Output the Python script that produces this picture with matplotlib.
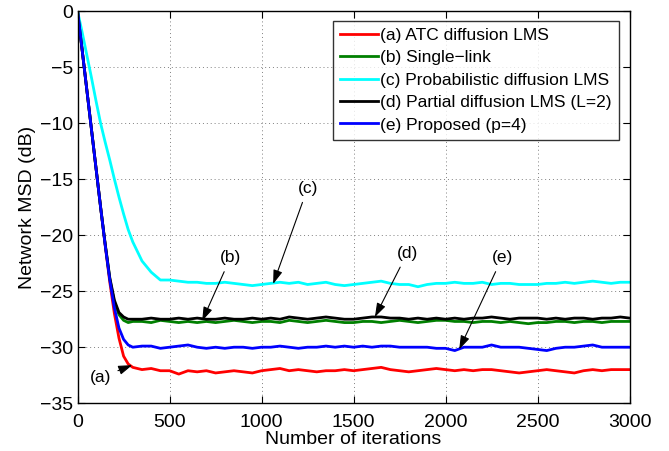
import matplotlib
matplotlib.use("Agg")
import matplotlib.pyplot as plt

plt.rcParams['font.family'] = ['Liberation Sans', 'DejaVu Sans']

# ---------------- data ----------------
iters = [0, 25, 50, 75, 100, 125, 150, 175, 200, 225, 250, 275, 300, 350, 400, 450] + list(range(500, 3001, 50))

atc_lms = [0, -3.5, -7.0, -10.5, -14.0, -17.5, -20.9, -24.2, -27.0, -29.2, -30.8, -31.5, -31.8, -32.0, -31.9, -32.1,
           -32.1, -32.4, -32.1, -32.2, -32.1, -32.3, -32.2, -32.1, -32.2, -32.3, -32.1, -32.0, -31.9, -32.1, -32.0,
           -32.1, -32.2, -32.1, -32.1, -32.0, -32.1, -32.0, -31.9, -31.8, -32.0, -32.1, -32.2, -32.1, -32.0, -31.9,
           -32.0, -32.1, -32.0, -32.1, -32.0, -32.0, -32.1, -32.2, -32.3, -32.2, -32.1, -32.0, -32.1, -32.2, -32.3,
           -32.1, -32.0, -32.1, -32.0, -32.0, -32.0]

single_link = [0, -3.5, -7.0, -10.5, -14.0, -17.5, -20.8, -23.9, -26.0, -27.1, -27.6, -27.8, -27.7, -27.7, -27.8, -27.6,
               -27.7, -27.8, -27.7, -27.8, -27.7, -27.8, -27.7, -27.6, -27.7, -27.8, -27.7, -27.7, -27.8, -27.6, -27.7,
               -27.8, -27.7, -27.6, -27.7, -27.8, -27.8, -27.7, -27.7, -27.8, -27.7, -27.6, -27.7, -27.8, -27.7, -27.6,
               -27.6, -27.7, -27.7, -27.8, -27.7, -27.7, -27.8, -27.7, -27.8, -27.9, -27.8, -27.8, -27.7, -27.7, -27.8,
               -27.7, -27.7, -27.8, -27.7, -27.7, -27.7]

prob_lms = [0, -1.9, -3.9, -5.9, -8.0, -10.0, -11.7, -13.3, -15.0, -16.6, -18.1, -19.5, -20.6, -22.3, -23.3, -24.0,
            -24.0, -24.1, -24.2, -24.2, -24.3, -24.3, -24.2, -24.3, -24.4, -24.5, -24.4, -24.3, -24.2, -24.3, -24.2,
            -24.4, -24.3, -24.2, -24.4, -24.5, -24.4, -24.3, -24.2, -24.1, -24.3, -24.4, -24.4, -24.6, -24.4, -24.3,
            -24.3, -24.2, -24.3, -24.3, -24.2, -24.4, -24.3, -24.3, -24.4, -24.4, -24.4, -24.3, -24.3, -24.2, -24.3,
            -24.2, -24.1, -24.2, -24.3, -24.2, -24.2]

partial_lms = [0, -3.5, -7.0, -10.5, -14.0, -17.5, -20.8, -23.8, -25.8, -26.9, -27.3, -27.5, -27.5, -27.5, -27.4, -27.5,
               -27.5, -27.4, -27.5, -27.4, -27.5, -27.5, -27.4, -27.5, -27.5, -27.4, -27.5, -27.4, -27.5, -27.3, -27.4,
               -27.5, -27.4, -27.3, -27.4, -27.5, -27.5, -27.4, -27.3, -27.3, -27.4, -27.4, -27.5, -27.4, -27.5, -27.4,
               -27.5, -27.4, -27.5, -27.4, -27.4, -27.3, -27.4, -27.5, -27.4, -27.4, -27.4, -27.5, -27.4, -27.5, -27.4,
               -27.4, -27.5, -27.4, -27.4, -27.3, -27.4]

proposed = [0, -3.5, -7.0, -10.5, -14.0, -17.5, -20.9, -24.0, -26.5, -28.3, -29.3, -29.8, -30.0, -29.9, -29.9, -30.1,
            -30.0, -29.9, -29.8, -30.0, -30.1, -30.0, -30.1, -30.0, -30.0, -30.1, -30.0, -30.0, -29.9, -30.0, -30.1,
            -30.0, -30.0, -29.9, -30.0, -29.9, -30.0, -29.9, -30.0, -29.9, -29.9, -30.0, -30.0, -30.0, -30.0, -30.1,
            -30.1, -30.3, -30.0, -30.0, -30.0, -29.8, -30.0, -30.0, -30.0, -30.1, -30.2, -30.3, -30.1, -30.0, -30.0,
            -29.9, -29.8, -30.0, -30.0, -30.0, -30.0]

labels = ['(a) ATC diffusion LMS', '(b) Single\u2212link', '(c) Probabilistic diffusion LMS',
          '(d) Partial diffusion LMS (L=2)', '(e) Proposed (p=4)']
colors = ['#ff0000', '#008000', '#00ffff', '#000000', '#0000ff']

xticks = [0, 500, 1000, 1500, 2000, 2500, 3000]
yticks = [0, -5, -10, -15, -20, -25, -30, -35]

# annotations: label, text position, arrow tip
ann_text = ['(a)', '(b)', '(c)', '(d)', '(e)']
ann_xytext = [(125, -32.7), (831, -22.0), (1250, -15.8), (1792, -21.6), (2308, -22.0)]
ann_xy = [(297, -31.6), (677, -27.65), (1063, -24.35), (1616, -27.3), (2074, -30.2)]

# ---------------- figure ----------------
fig = plt.figure(figsize=(6.69, 4.51), dpi=100)
ax = fig.add_axes([0.116, 0.106, 0.825, 0.869])

series = [atc_lms, single_link, prob_lms, partial_lms, proposed]
for vals, c, lab in zip(series, colors, labels):
    ax.plot(iters, vals, color=c, lw=2.0, label=lab)

ax.set_xlim(0, 3000)
ax.set_ylim(-35, 0)
ax.set_xticks(xticks)
ax.set_yticks(yticks)
ax.set_xticklabels([str(v) for v in xticks])
ax.set_yticklabels([str(v).replace('-', '\u2212') for v in yticks])
ax.tick_params(direction='in', top=True, right=True, labelsize=14, length=5, width=0.8)
ax.tick_params(axis='x', pad=8)
ax.tick_params(axis='y', pad=3)
ax.grid(True, linestyle=(0, (1, 3)), color='#808080', lw=0.7)
for s in ax.spines.values():
    s.set_linewidth(1.0)

ax.set_xlabel('Number of iterations', fontsize=14, labelpad=0)
ax.set_ylabel('Network MSD (dB)', fontsize=14, labelpad=3)

for t, xyt, xy in zip(ann_text, ann_xytext, ann_xy):
    ax.annotate(t, xy=xy, xytext=xyt, fontsize=12.5, ha='center', va='center',
                arrowprops=dict(arrowstyle='-|>,head_length=0.6,head_width=0.2', color='k', lw=0.8,
                                mutation_scale=14, shrinkA=3, shrinkB=0))

leg = ax.legend(loc='upper right', bbox_to_anchor=(0.9806, 0.976), borderaxespad=0,
                fontsize=12.5, frameon=True, fancybox=False, edgecolor='k',
                handlelength=2.2, handletextpad=0.15, labelspacing=0.42, borderpad=0.4)
leg.get_frame().set_linewidth(1.0)

fig.savefig('out.png', dpi=100)
